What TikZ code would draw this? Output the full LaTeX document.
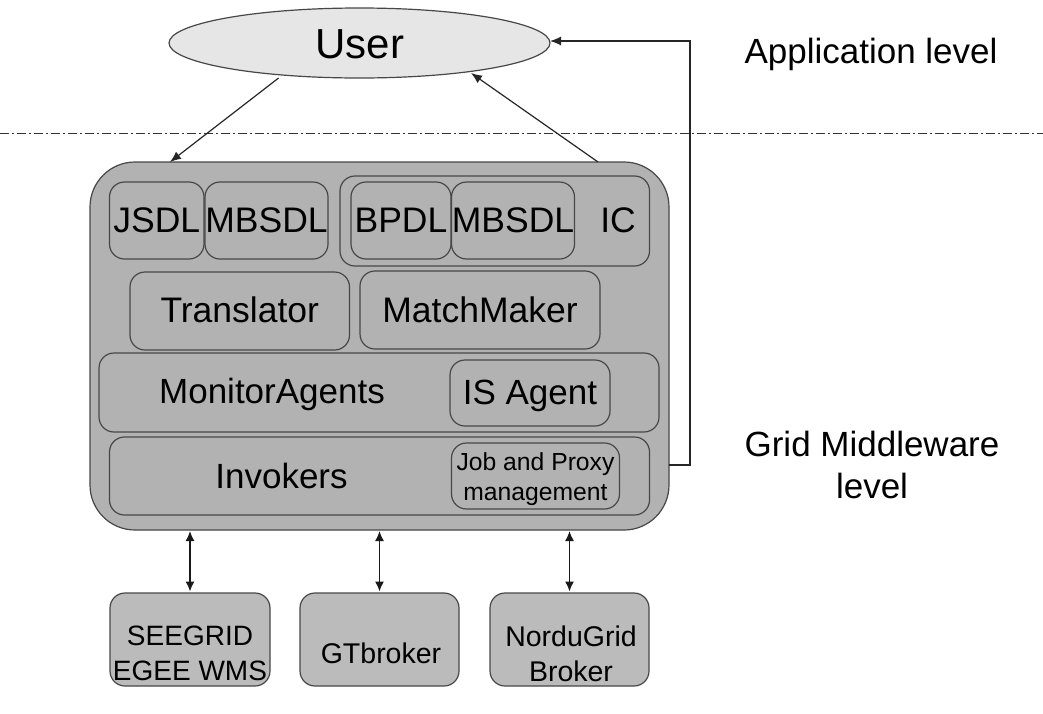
\documentclass[tikz,border=0pt]{standalone}
\usepackage{fontspec}
\setmainfont{Liberation Sans}
\usetikzlibrary{arrows.meta,shapes.geometric}
\newcommand{\fsz}[1]{\fontsize{#1}{#1}\selectfont}
\newcommand{\fszl}[2]{\fontsize{#1}{#2}\selectfont}
\tikzset{
  every node/.style={inner sep=0pt,outer sep=0pt,text=black},
  ln/.style={draw=black!72,line width=1.2pt},
  box/.style={ln,fill=boxgray,rounded corners=15pt},
  brokerbox/.style={ln,fill=brokergray,rounded corners=15pt,minimum width=159pt,minimum height=93pt},
  arr/.style={draw=black!85,line width=1.2pt,-{Latex[length=11pt,width=9pt]}},
  darr/.style={draw=black!90,line width=1.5pt,shorten <=1pt,shorten >=1.5pt,{Latex[length=10pt,width=9pt]}-{Latex[length=10pt,width=9pt]}},
}
\definecolor{boxgray}{HTML}{B2B2B2}
\definecolor{brokergray}{HTML}{BBBBBB}
\definecolor{usergray}{HTML}{E6E6E6}
\begin{document}
\begin{tikzpicture}[x=1pt,y=-1pt]
\useasboundingbox (0,0) rectangle (1043,713);
\fill[white] (0,0) rectangle (1043,713);
% level separator
\coordinate (sepL) at (0,133);
\coordinate (sepR) at (1043,133);
\draw[black!80,line width=1pt,dash pattern=on 9pt off 3pt on 2pt off 3pt] (sepL) -- (sepR);
% user
\node[ellipse,ln,fill=usergray,minimum width=381pt,minimum height=70pt] (user) at (359.5,43) {};
\node[font=\fsz{42}] (usertxt) at (360,44) {User};
% core
\node[box,rounded corners=45pt,minimum width=579pt,minimum height=368pt] (core) at (379.5,346) {};
\node[box,minimum width=94.5pt,minimum height=77pt,font=\fsz{35.5}] (jsdl) at (156.75,220.5) {JSDL};
\node[box,minimum width=123pt,minimum height=77pt,font=\fsz{35.5}] (mb1) at (266.5,220.5) {MBSDL};
\node[box,minimum width=309.5pt,minimum height=90pt] (ic) at (494.75,221) {};
\node[box,minimum width=100pt,minimum height=77pt,font=\fsz{35.5}] (bpdl) at (401,220.5) {BPDL};
\node[box,minimum width=123pt,minimum height=77pt,font=\fsz{35.5}] (mb2) at (513,220.5) {MBSDL};
\node[font=\fsz{35.5}] (ictxt) at (618,220) {IC};
\node[box,minimum width=219.5pt,minimum height=78pt,font=\fsz{35.5},text depth=2pt] (trans) at (239.75,311) {Translator};
\node[box,minimum width=240pt,minimum height=78pt,font=\fsz{35.5}] (mm) at (480,310) {MatchMaker};
\node[box,minimum width=560pt,minimum height=79pt] (mon) at (379,392.5) {};
\node[font=\fsz{35}] (montxt) at (272,394) {MonitorAgents};
\node[box,minimum width=160pt,minimum height=66pt] (is) at (530,393) {};
\node[font=\fsz{35}] (istxt) at (530,396) {IS Agent};
\node[box,minimum width=540pt,minimum height=78pt] (inv) at (379.5,476) {};
\node[font=\fsz{35}] (invtxt) at (281.5,476) {Invokers};
\node[box,minimum width=168pt,minimum height=66pt] (job) at (535.5,476) {};
\node[align=center,font=\fszl{24.7}{29.3}] (jobtxt) at (535.5,479) {Job and Proxy\\management};
% brokers
\node[brokerbox,minimum width=160pt] (sg) at (190,639.5) {};
\node[align=center,font=\fszl{28}{35.3}] (sgtxt) at (190,653.2) {SEEGRID\\EGEE WMS};
\node[brokerbox] (gt) at (379.5,639.5) {};
\node[font=\fsz{28.5}] (gttxt) at (381,653) {GTbroker};
\node[brokerbox] (ng) at (569.5,639.5) {};
\node[align=center,font=\fszl{28.5}{35.3}] (ngtxt) at (571,653.5) {NorduGrid\\Broker};
% right labels
\node[font=\fsz{35}] (app) at (871,54) {Application level};
\node[font=\fsz{35},align=center] (grid) at (872,465) {Grid Middleware\\[7pt]level};
% connectors
\coordinate (dnS) at (278.6,78);
\coordinate (dnE) at (170,162);
\coordinate (upS) at (598,162);
\coordinate (upE) at (471,73);
\coordinate (retS) at (669,465);
\coordinate (retC) at (690,465);
\coordinate (retD) at (690,41);
\coordinate (retE) at (550,41);
\draw[arr] (dnS) -- (dnE);
\draw[arr] (upS) -- (upE);
\draw[arr] (retS) -- (retC) -- (retD) -- (retE);
\draw[darr] (sg.north |- core.south) -- (sg.north);
\draw[darr] (gt.north |- core.south) -- (gt.north);
\draw[darr] (ng.north |- core.south) -- (ng.north);
\end{tikzpicture}
\end{document}
